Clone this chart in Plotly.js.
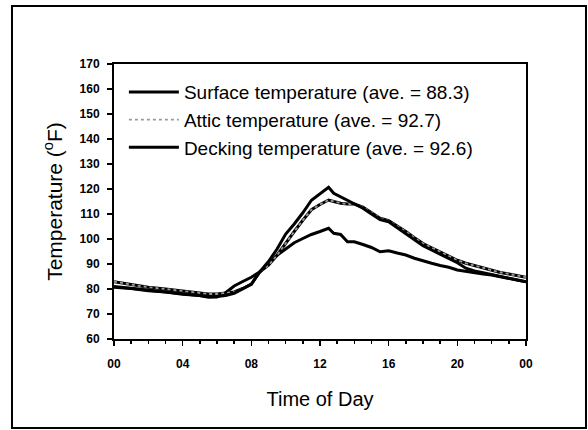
<!DOCTYPE html>
<html>
<head>
<meta charset="utf-8">
<script src="https://cdn.plot.ly/plotly-3.0.1.min.js"></script>
<style>
  html, body { margin: 0; padding: 0; background: #fff; }
  #chart { width: 588px; height: 430px; }
</style>
</head>
<body>
<div id="chart"></div>
<script>
// Time of day (hours)
const hours = [0, 1, 2, 3, 4, 5, 5.5, 6, 6.5, 7, 7.5, 8, 8.5, 9, 9.5, 10, 10.5, 11, 11.5, 12,
  12.5, 12.8, 13.2, 13.6, 14, 14.5, 15, 15.5, 16, 16.5, 17, 17.5, 18, 18.5, 19, 19.5,
  20, 20.5, 21, 21.5, 22, 22.5, 23, 23.5, 24];

// Surface temperature (ave. = 88.3)
const surfaceTemp = [80.7, 80.2, 79.3, 78.8, 77.9, 77.4, 76.7, 76.8, 78.5, 81.2, 83, 84.7, 86.9, 90, 93.5, 96, 98.5, 100.2, 101.8, 103,
  104.3, 102.3, 101.8, 98.9, 98.9, 97.8, 96.6, 94.9, 95.3, 94.4, 93.6, 92.3, 91.2, 90.3, 89.4, 88.7,
  87.6, 87, 86.6, 86, 85.6, 85, 84.4, 83.6, 82.9];

// Attic temperature (ave. = 92.7)
const atticTemp = [82.9, 81.8, 80.7, 80, 79.2, 78.6, 78, 78, 78.5, 78.8, 80.2, 82, 86.9, 89.5, 93.5, 98.5, 103, 107.5, 111.7, 113.8,
  115.6, 115, 114.3, 114, 114, 112.8, 110.5, 108.3, 107.3, 105.2, 103, 100.5, 98.2, 96.5, 94.8, 93,
  91.5, 90.3, 89.4, 88.3, 87.6, 86.6, 86, 85.3, 84.7];

// Decking temperature (ave. = 92.6)
const deckingTemp = [81, 80.3, 79.5, 78.9, 78.1, 77.6, 77, 77, 77.4, 78.3, 80, 81.9, 86.9, 91, 96, 102, 106, 110.5, 115.5, 118,
  120.7, 118.3, 116.9, 115.5, 113.8, 112.3, 110, 107.8, 106.9, 104.5, 102.2, 99.5, 97.3, 95.6, 94, 92.3,
  90.5, 88.3, 87.2, 86.5, 85.7, 84.9, 84.3, 83.6, 82.9];

const xTickVals = [0, 4, 8, 12, 16, 20, 24];
const xTickText = ["00", "04", "08", "12", "16", "20", "00"];
const seriesNames = ["Surface temperature (ave. = 88.3)", "Attic temperature (ave. = 92.7)", "Decking temperature (ave. = 92.6)"];

const textFont = "Liberation Sans, Arial, sans-serif";
const tickFont = {family: "Liberation Sans Narrow, Arial Narrow, Liberation Sans, Arial, sans-serif", size: 12, color: "#000", weight: "bold"};

const traces = [
  {x: hours, y: surfaceTemp, name: seriesNames[0], mode: "lines",
   line: {color: "#000", width: 3}},
  {x: hours, y: atticTemp, name: seriesNames[1], mode: "lines", showlegend: false, hoverinfo: "skip",
   line: {color: "#000", width: 3}},
  {x: hours, y: atticTemp, name: seriesNames[1], mode: "lines",
   line: {color: "#9a9a9a", width: 1.8, dash: "dot"}},
  {x: hours, y: deckingTemp, name: seriesNames[2], mode: "lines",
   line: {color: "#000", width: 3}}
];

const layout = {
  width: 588, height: 430,
  margin: {l: 114, r: 62, t: 64, b: 91},
  paper_bgcolor: "#fff", plot_bgcolor: "#fff",
  showlegend: true,
  legend: {x: 0.024, y: 0.967, xanchor: "left", yanchor: "top", bgcolor: "rgba(0,0,0,0)",
    itemwidth: 50, font: {family: textFont, size: 19, color: "#000"}},
  xaxis: {
    range: [0, 24], tickvals: xTickVals, ticktext: xTickText,
    showgrid: false, zeroline: false, showline: true, linecolor: "#000", linewidth: 2, mirror: true,
    ticks: "outside", ticklen: 5, tickwidth: 1.5, tickcolor: "#000", ticklabelstandoff: 8,
    minor: {dtick: 1, ticks: "outside", ticklen: 3, tickwidth: 1.5, tickcolor: "#000"},
    tickfont: tickFont,
    title: {text: "Time of Day", font: {family: textFont, size: 20, color: "#000"}, standoff: 22}
  },
  yaxis: {
    range: [60, 170], dtick: 10, tick0: 60,
    showgrid: false, zeroline: false, showline: true, linecolor: "#000", linewidth: 2, mirror: true,
    ticks: "outside", ticklen: 5, tickwidth: 1.5, tickcolor: "#000", ticklabelstandoff: 5,
    tickfont: tickFont,
    title: {text: "Temperature (<sup>o</sup>F)", font: {family: textFont, size: 21, color: "#000"}, standoff: 11}
  },
  shapes: [{type: "rect", xref: "paper", yref: "paper",
    x0: -0.2476, x1: 1.1456, y0: -0.3236, y1: 1.2109,
    line: {color: "#000", width: 2}, fillcolor: "rgba(0,0,0,0)", layer: "below"}]
};

Plotly.newPlot("chart", traces, layout, {displayModeBar: false, staticPlot: true});
</script>
</body>
</html>
